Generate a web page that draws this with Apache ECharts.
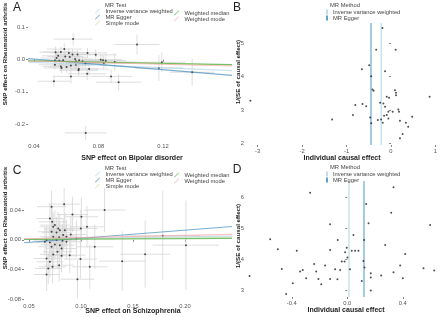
<!DOCTYPE html>
<html>
<head>
<meta charset="utf-8">
<script src="https://cdn.jsdelivr.net/npm/echarts@6/dist/echarts.min.js"></script>
<style>
  html, body { margin: 0; background: #fff; }
  #chart { width: 440px; height: 317px; }
</style>
</head>
<body>
<div id="chart"></div>
<script>
  const methods = ['Inverse variance weighted', 'MR Egger', 'Simple mode', 'Weighted median', 'Weighted mode']
  const methodColors = ['#a6cee3', '#1f78b4', '#b2df8a', '#33a02c', '#fb9a99']

  // A: Bipolar disorder -> Rheumatoid arthritis
  const bxA = [0.0643, 0.0588, 0.0567, 0.0534, 0.0616, 0.0639, 0.0670, 0.0732, 0.0783, 0.0550,
    0.0594, 0.0622, 0.0655, 0.0680, 0.0701, 0.0530, 0.0557, 0.0581, 0.0814, 0.0828,
    0.0845, 0.0901, 0.1039, 0.1193, 0.0530, 0.0567, 0.0602, 0.0629, 0.0660, 0.0719,
    0.0833, 0.0678, 0.0742, 0.0676, 0.0571, 0.0730, 0.0629, 0.0878, 0.0925, 0.0524,
    0.1175, 0.1381, 0.0721, 0.0540, 0.0660]
  const byA = [0.064, 0.033, 0.024, 0.023, 0.021, 0.016, 0.016, 0.021, 0.015, 0.012,
    0.010, 0.008, 0.002, -0.002, -0.005, -0.002, -0.003, -0.002, 0.000, -0.002,
    -0.003, -0.007, 0.047, -0.008, -0.016, -0.021, -0.023, -0.018, -0.016, -0.012,
    -0.010, -0.029, -0.029, -0.033, -0.026, -0.044, -0.052, -0.052, -0.070, -0.067,
    -0.026, -0.039, -0.228, 0.005, -0.005]
  const bxseA = [0.012, 0.011, 0.011, 0.010, 0.011, 0.011, 0.011, 0.012, 0.013, 0.010,
    0.011, 0.011, 0.011, 0.012, 0.012, 0.010, 0.010, 0.011, 0.013, 0.013,
    0.013, 0.014, 0.014, 0.015, 0.010, 0.011, 0.011, 0.011, 0.011, 0.012,
    0.013, 0.012, 0.012, 0.012, 0.011, 0.012, 0.011, 0.013, 0.014, 0.010,
    0.015, 0.014, 0.013, 0.010, 0.011]
  const byseA = [0.020, 0.018, 0.016, 0.017, 0.015, 0.018, 0.014, 0.016, 0.017, 0.016,
    0.015, 0.016, 0.015, 0.016, 0.017, 0.015, 0.014, 0.016, 0.018, 0.017,
    0.019, 0.028, 0.031, 0.030, 0.015, 0.016, 0.017, 0.015, 0.018, 0.016,
    0.020, 0.018, 0.020, 0.017, 0.016, 0.020, 0.022, 0.022, 0.025, 0.018,
    0.040, 0.042, 0.022, 0.015, 0.016]
  const interceptA = [0, 0.018, 0, 0, 0]
  const slopeA = [-0.21, -0.41, -0.10, -0.095, -0.12]

  // B: funnel plot for A
  const ratioB = [-3.164, -1.324, -0.802, -0.855, -0.639, -0.557, -0.654, -0.490, -0.445, -0.415,
    -0.392, -0.467, -0.445, -0.333, -0.192, -0.132, -0.244, -0.170, -0.132, -0.296,
    -0.222, -0.185, -0.155, -0.095, -0.058, -0.058, -0.095, -0.043, 0.039, 0.091,
    0.114, 0.114, 0.106, 0.166, 0.181, 0.202, 0.336, 0.388, 0.478, 0.262,
    0.202, 0.870]
  const invSeB = [3.272, 2.716, 3.143, 2.845, 3.173, 3.113, 4.216, 4.335, 4.007, 3.610,
    3.570, 2.776, 2.597, 4.800, 5.447, 4.156, 3.213, 3.193, 3.093, 2.696,
    2.716, 2.617, 2.825, 2.845, 2.944, 2.746, 3.391, 3.361, 2.944, 3.590,
    3.510, 3.440, 4.800, 3.014, 2.944, 2.676, 2.617, 2.498, 2.795, 2.279,
    2.150, 3.391]
  const ivwB = -0.22
  const eggerB = -0.45

  // C: Schizophrenia -> Rheumatoid arthritis
  const bxC = [0.0717, 0.0838, 0.0918, 0.1004, 0.1227, 0.0701, 0.0723, 0.0749, 0.0733, 0.0781,
    0.0797, 0.0845, 0.0717, 0.0765, 0.1058, 0.0998, 0.0902, 0.0829, 0.0790, 0.0733,
    0.0669, 0.0765, 0.0822, 0.0860, 0.0701, 0.0749, 0.0797, 0.0717, 0.0813, 0.0774,
    0.0733, 0.0813, 0.0892, 0.0669, 0.0701, 0.0790, 0.0726, 0.0685, 0.0995, 0.1084,
    0.0669, 0.0966, 0.1132, 0.1396, 0.1617, 0.1786, 0.2009, 0.0653, 0.0860, 0.0956]
  const byC = [0.0445, 0.0480, 0.0340, 0.0310, 0.0400, 0.0287, 0.0242, 0.0198, 0.0175, 0.0153,
    0.0130, 0.0130, 0.0108, 0.0099, 0.0175, 0.0153, 0.0072, 0.0063, 0.0036, 0.0040,
    -0.0004, -0.0004, -0.0013, -0.0027, -0.0036, -0.0063, -0.0072, -0.0094, -0.0117, -0.0162,
    -0.0198, -0.0216, -0.0207, -0.0251, -0.0296, -0.0341, -0.0364, -0.0386, -0.0260, -0.0364,
    -0.0467, -0.0530, -0.0094, -0.0287, -0.0193, 0.0054, -0.0072, -0.0027, 0.0040, 0.0018]
  const bxseC = [0.014, 0.015, 0.015, 0.016, 0.020, 0.013, 0.013, 0.014, 0.013, 0.014,
    0.014, 0.015, 0.013, 0.014, 0.017, 0.016, 0.015, 0.014, 0.014, 0.013,
    0.012, 0.014, 0.014, 0.015, 0.013, 0.013, 0.014, 0.013, 0.014, 0.014,
    0.013, 0.014, 0.015, 0.012, 0.013, 0.014, 0.013, 0.013, 0.016, 0.017,
    0.012, 0.016, 0.018, 0.022, 0.024, 0.036, 0.032, 0.012, 0.015, 0.016]
  const byseC = [0.022, 0.025, 0.024, 0.026, 0.030, 0.020, 0.021, 0.020, 0.019, 0.022,
    0.021, 0.023, 0.020, 0.021, 0.028, 0.025, 0.024, 0.022, 0.021, 0.020,
    0.019, 0.020, 0.022, 0.023, 0.020, 0.021, 0.022, 0.020, 0.022, 0.021,
    0.020, 0.022, 0.024, 0.020, 0.021, 0.022, 0.022, 0.021, 0.026, 0.030,
    0.022, 0.026, 0.030, 0.040, 0.045, 0.060, 0.060, 0.019, 0.023, 0.025]
  const interceptC = [0, -0.009, 0, 0, 0]
  const slopeC = [0.020, 0.11, 0.012, 0.008, 0.030]

  // D: funnel plot for C
  const ratioD = [-0.705, -0.556, -0.501, -0.472, -0.393, -0.441, -0.364, -0.340, -0.321, -0.297,
    -0.268, -0.239, -0.224, -0.208, -0.188, -0.160, -0.124, -0.124, -0.124, -0.088,
    -0.071, -0.069, -0.052, -0.040, -0.020, -0.016, -0.004, 0.001, 0.020, 0.032,
    0.044, 0.056, 0.080, 0.104, 0.116, 0.124, 0.121, 0.136, 0.153, 0.169,
    0.169, 0.169, 0.244, 0.273, 0.316, 0.333, 0.333, 0.381, 0.400, 0.417,
    0.549, 0.597, 0.626]
  const invSeD = [3.453, 4.640, 4.317, 3.680, 3.216, 2.871, 4.273, 3.594, 3.648, 3.378,
    6.151, 3.842, 3.594, 3.356, 3.184, 3.788, 5.126, 4.295, 3.356, 3.669,
    3.345, 4.619, 3.648, 3.917, 3.917, 4.220, 4.370, 4.047, 3.669, 4.273,
    4.780, 4.273, 4.273, 3.292, 3.939, 3.723, 4.620, 5.784, 5.158, 3.540,
    3.400, 2.979, 3.464, 4.457, 5.504, 6.324, 3.572, 3.788, 3.378, 4.165,
    3.702, 5.104, 3.626]
  const ivwD = 0.012
  const eggerD = 0.12

  const xTicksA = [0.04, 0.08, 0.12]
  const yTicksA = [-0.2, -0.1, 0, 0.1]
  const xTicksB = [-3, -2, -1, 0, 1]
  const yTicksB = [2, 3, 4, 5]
  const xTicksC = [0.05, 0.10, 0.15, 0.20]
  const yTicksC = [-0.08, -0.04, 0, 0.04]
  const xTicksD = [-0.4, 0, 0.4]
  const yTicksD = [3, 4, 5, 6]

  const font = 'Liberation Sans'
  const range = {
    A: { x: [0.0363, 0.1628], y: [-0.25, 0.111] },
    B: { x: [-3.24, 1.07], y: [1.95, 5.6] },
    C: { x: [0.0452, 0.2452], y: [-0.081, 0.0697] },
    D: { x: [-0.723, 0.668], y: [2.77, 6.53] }
  }

  function axis (gridIndex, r, ticks, digits) {
    return {
      gridIndex: gridIndex,
      type: 'value',
      min: r[0],
      max: r[1],
      axisLine: { show: false },
      splitLine: { show: false },
      axisTick: { show: true, length: 2, customValues: ticks, lineStyle: { color: '#666', width: 0.8 } },
      axisLabel: {
        customValues: ticks,
        formatter: v => Number(v).toFixed(digits),
        fontSize: 5.8,
        fontFamily: font,
        color: '#555',
        margin: 3
      }
    }
  }

  function errorBars (params, api) {
    const x = api.value(0), y = api.value(1), sx = api.value(2), sy = api.value(3)
    const h0 = api.coord([x - sx, y]), h1 = api.coord([x + sx, y])
    const v0 = api.coord([x, y - sy]), v1 = api.coord([x, y + sy])
    const style = { stroke: '#d6d6d6', lineWidth: 0.8 }
    return {
      type: 'group',
      children: [
        { type: 'line', shape: { x1: h0[0], y1: h0[1], x2: h1[0], y2: h1[1] }, style: style },
        { type: 'line', shape: { x1: v0[0], y1: v0[1], x2: v1[0], y2: v1[1] }, style: style }
      ]
    }
  }

  function scatterPanel (idx, bx, by, bxse, byse, intercept, slope, r) {
    const out = [
      {
        type: 'custom', xAxisIndex: idx, yAxisIndex: idx, silent: true, clip: true, z: 1,
        data: bx.map((v, i) => [v, by[i], bxse[i], byse[i]]),
        encode: { x: 0, y: 1 },
        renderItem: errorBars
      },
      {
        type: 'scatter', xAxisIndex: idx, yAxisIndex: idx, silent: true, z: 3,
        symbolSize: 2, itemStyle: { color: '#222' },
        data: bx.map((v, i) => [v, by[i]])
      }
    ]
    methods.forEach((m, i) => {
      out.push({
        name: m, type: 'line', xAxisIndex: idx, yAxisIndex: idx, silent: true, z: 4,
        symbol: 'none',
        itemStyle: { color: methodColors[i] },
        lineStyle: { color: methodColors[i], width: 1.1, opacity: 0.6 },
        data: r.x.map(x => [x, intercept[i] + slope[i] * x])
      })
    })
    return out
  }

  function funnelPanel (idx, ratio, invSe, ivw, egger, r) {
    return [
      {
        type: 'scatter', xAxisIndex: idx, yAxisIndex: idx, silent: true, z: 3,
        symbolSize: 2, itemStyle: { color: '#222' },
        data: ratio.map((v, i) => [v, invSe[i]])
      },
      {
        name: methods[0], type: 'line', xAxisIndex: idx, yAxisIndex: idx, silent: true, z: 2,
        symbol: 'none', itemStyle: { color: methodColors[0] },
        lineStyle: { color: methodColors[0], width: 1.3, opacity: 0.7 },
        data: r.y.map(y => [ivw, y])
      },
      {
        name: methods[1], type: 'line', xAxisIndex: idx, yAxisIndex: idx, silent: true, z: 2,
        symbol: 'none', itemStyle: { color: methodColors[1] },
        lineStyle: { color: methodColors[1], width: 2, opacity: 0.4 },
        data: r.y.map(y => [egger, y])
      }
    ]
  }

  const diag = 'path://M0,9L9,0L10,1L1,10Z'
  function legend (left, top, names, icon, w) {
    return {
      left: left, top: top, orient: 'vertical', padding: 0, itemGap: 0,
      itemWidth: w, itemHeight: 5, selectedMode: false,
      itemStyle: { opacity: 0.7 },
      textStyle: { fontSize: 5.8, fontFamily: font, color: '#444', lineHeight: 5 },
      data: names.map(n => ({ name: n, icon: icon }))
    }
  }

  function text (str, x, y, opts) {
    return Object.assign({
      type: 'text', x: x, y: y, silent: true,
      style: Object.assign({ text: str, fontFamily: font, fill: '#222', align: 'center', verticalAlign: 'middle' }, opts.style)
    }, opts.el || {})
  }

  const chart = echarts.init(document.getElementById('chart'), null, { renderer: 'canvas' })
  chart.setOption({
    animation: false,
    backgroundColor: '#fff',
    grid: [
      { left: 28, top: 24, width: 204, height: 116 },
      { left: 247, top: 23, width: 193, height: 122 },
      { left: 24, top: 188, width: 208, height: 112 },
      { left: 247, top: 181, width: 193, height: 116 }
    ],
    xAxis: [
      axis(0, range.A.x, xTicksA, 2),
      axis(1, range.B.x, xTicksB, 0),
      axis(2, range.C.x, xTicksC, 2),
      axis(3, range.D.x, xTicksD, 1)
    ],
    yAxis: [
      axis(0, range.A.y, yTicksA, 1),
      axis(1, range.B.y, yTicksB, 0),
      axis(2, range.C.y, yTicksC, 2),
      axis(3, range.D.y, yTicksD, 0)
    ],
    legend: [
      legend(95, 8, methods.slice(0, 3), diag, 6),
      legend(174, 10, methods.slice(3), diag, 6),
      legend(95, 171, methods.slice(0, 3), diag, 6),
      legend(174, 172, methods.slice(3), diag, 6),
      legend(326, 9, methods.slice(0, 2), 'rect', 2),
      legend(326, 171, methods.slice(0, 2), 'rect', 2)
    ],
    series: [].concat(
      scatterPanel(0, bxA, byA, bxseA, byseA, interceptA, slopeA, range.A),
      funnelPanel(1, ratioB, invSeB, ivwB, eggerB, range.B),
      scatterPanel(2, bxC, byC, bxseC, byseC, interceptC, slopeC, range.C),
      funnelPanel(3, ratioD, invSeD, ivwD, eggerD, range.D)
    ),
    graphic: [
      text('A', 17, 8, { style: { fontSize: 12 } }),
      text('B', 237, 8, { style: { fontSize: 12 } }),
      text('C', 17, 171, { style: { fontSize: 12 } }),
      text('D', 237, 170, { style: { fontSize: 12 } }),
      text('MR Test', 105, 5, { style: { fontSize: 5.8, align: 'left', fill: '#444' } }),
      text('MR Test', 105, 168, { style: { fontSize: 5.8, align: 'left', fill: '#444' } }),
      text('MR Method', 330, 5, { style: { fontSize: 5.8, align: 'left', fill: '#444' } }),
      text('MR Method', 330, 167, { style: { fontSize: 5.8, align: 'left', fill: '#444' } }),
      text('SNP effect on Bipolar disorder', 132, 158, { style: { fontSize: 7, fontWeight: 'bold' } }),
      text('Individual causal effect', 342, 158, { style: { fontSize: 7, fontWeight: 'bold' } }),
      text('SNP effect on Schizophrenia', 133, 311, { style: { fontSize: 7, fontWeight: 'bold' } }),
      text('Individual causal effect', 346, 310, { style: { fontSize: 7, fontWeight: 'bold' } }),
      text('SNP effect on Rheumatoid arthritis', 5, 54, { style: { fontSize: 6.2, fontWeight: 'bold' }, el: { rotation: Math.PI / 2 } }),
      text('SNP effect on Rheumatoid arthritis', 5, 218, { style: { fontSize: 6.2, fontWeight: 'bold' }, el: { rotation: Math.PI / 2 } }),
      text('1/(SE of causal effect)', 238, 72, { style: { fontSize: 6.2, fontWeight: 'bold' }, el: { rotation: Math.PI / 2 } }),
      text('1/(SE of causal effect)', 238, 236, { style: { fontSize: 6.2, fontWeight: 'bold' }, el: { rotation: Math.PI / 2 } })
    ]
  })
</script>
</body>
</html>
